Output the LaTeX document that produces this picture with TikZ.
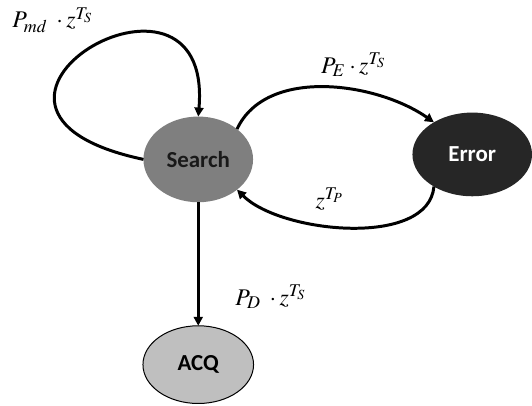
\documentclass[tikz,border=0pt]{standalone}
\usepackage[no-math]{fontspec}
\usepackage{mathptmx}
\usepackage{tikz}
\usetikzlibrary{shapes.geometric, arrows.meta, positioning}
\newfontfamily\statefont{Carlito}
\definecolor{searchgray}{RGB}{127, 127, 127}
\definecolor{errorblack}{RGB}{38, 38, 38}
\definecolor{acqgray}{RGB}{191, 191, 191}

\begin{document}
\begin{tikzpicture}[
    state/.style={ellipse, inner sep=0pt, outer sep=0pt, align=center,
        font=\statefont\bfseries\fontsize{11.5}{13}\selectfont},
    lbl/.style={inner sep=0pt, font=\fontsize{12}{14}\selectfont},
    edge/.style={-{Triangle[length=4.5pt,width=4.5pt]}, line width=1.5pt}
]

% States
\node[state, fill=searchgray, text=black!90, minimum width=55pt, minimum height=43pt] (search) {Search};
\node[state, fill=errorblack, text=white, minimum width=60pt, minimum height=42pt,
      right=80pt of search, yshift=2.5pt] (error) {Error};
\node[state, fill=acqgray, draw=black, line width=0.5pt, minimum width=55.5pt, minimum height=39pt,
      below=62pt of search] (acq) {ACQ};

% Page size
\useasboundingbox ([shift={(-99.5pt,-123.5pt)}]search.center) rectangle ([shift={(166.5pt,80pt)}]search.center);

% Transitions
\draw[edge] (search.west) .. controls +(-118pt,25pt) and +(8pt,93.5pt) .. (search.north);
\draw[edge] (search.38) to[out=65, in=145, looseness=0.9] (error.140);
\draw[edge] (error.220) to[out=-95, in=-45, looseness=0.8] (search.-38);
\draw[edge] (search) -- (acq);

% Transition labels
\node[lbl] (lmd) at ([shift={(-73pt,70pt)}]search.center) {$P_{md}\;\cdot z^{T_S}$};
\node[lbl] (le) at ([shift={(78pt,47.5pt)}]search.center) {$P_E\cdot z^{T_S}$};
\node[lbl] (lp) at ([shift={(66pt,-20pt)}]search.center) {$z^{T_P}$};
\node[lbl] (ld) at ([shift={(36.5pt,-69pt)}]search.center) {$P_D\;\cdot z^{T_S}$};

\end{tikzpicture}
\end{document}
